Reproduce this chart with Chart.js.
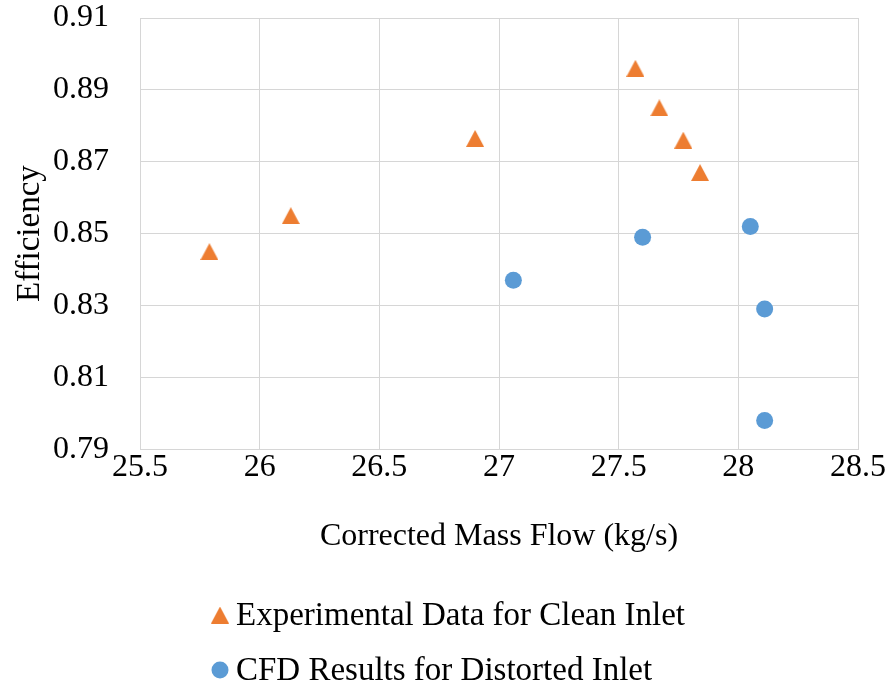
<!DOCTYPE html>
<html>
<head>
<meta charset="utf-8">
<script src="https://cdn.jsdelivr.net/npm/chart.js@4.4.0/dist/chart.umd.min.js"></script>
<style>
  html, body { margin: 0; padding: 0; background: #fff; }
  #wrap { width: 891px; height: 688px; }
</style>
</head>
<body>
<div id="wrap"><canvas id="effChart" width="891" height="688"></canvas></div>
<script>
// 데이터
const cleanLabel = 'Experimental Data for Clean Inlet';
const cleanFlow = [25.79, 26.13, 26.90, 27.57, 27.67, 27.77, 27.84];
const cleanEff = [0.845, 0.855, 0.8765, 0.896, 0.885, 0.876, 0.867];

const cfdLabel = 'CFD Results for Distorted Inlet';
const cfdFlow = [27.06, 27.60, 28.05, 28.11, 28.11];
const cfdEff = [0.837, 0.849, 0.852, 0.829, 0.798];

const xTickLabels = ['25.5', '26', '26.5', '27', '27.5', '28', '28.5'];
const yTickLabels = ['0.79', '0.81', '0.83', '0.85', '0.87', '0.89', '0.91'];

const orange = '#ED7D31';
const blue = '#5B9BD5';
const gridColor = '#d6d6d6';
const serif = "'Liberation Serif', 'Times New Roman', serif";

// 삼각형 마커 (엑셀 스타일)
const makeTriangle = (w, h, color) => {
  const c = document.createElement('canvas');
  c.width = w;
  c.height = h;
  const g = c.getContext('2d');
  g.fillStyle = color;
  g.beginPath();
  g.moveTo(w / 2, 0);
  g.lineTo(w, h);
  g.lineTo(0, h);
  g.closePath();
  g.fill();
  return c;
};
const triangleImg = makeTriangle(18, 17, orange);

const toPoints = (xs, ys) => xs.map((x, i) => ({ x: x, y: ys[i] }));

// 아래쪽 범례 직접 그리기 (왼쪽 정렬)
const bottomLegend = {
  id: 'bottomLegend',
  afterDraw(chart) {
    const ctx = chart.ctx;
    const rows = [
      { text: cleanLabel, y: 615, marker: 'tri' },
      { text: cfdLabel, y: 670, marker: 'dot' }
    ];
    ctx.save();
    rows.forEach(r => {
      if (r.marker === 'tri') {
        ctx.drawImage(triangleImg, 220 - 9, r.y - 8.5);
      } else {
        ctx.fillStyle = blue;
        ctx.beginPath();
        ctx.arc(220, r.y, 8.5, 0, Math.PI * 2);
        ctx.fill();
      }
      ctx.fillStyle = '#000';
      ctx.font = `33px ${serif}`;
      ctx.textBaseline = 'middle';
      ctx.textAlign = 'left';
      ctx.fillText(r.text, 236, r.y + 1);
    });
    ctx.restore();
  }
};

const ctx = document.querySelector('#effChart').getContext('2d');
const myChart = new Chart(ctx, {
  type: 'scatter',
  data: {
    datasets: [{
      label: cleanLabel,
      data: toPoints(cleanFlow, cleanEff),
      pointStyle: triangleImg,
      backgroundColor: orange,
      borderColor: orange,
    }, {
      label: cfdLabel,
      data: toPoints(cfdFlow, cfdEff),
      pointStyle: 'circle',
      pointRadius: 8.5,
      pointHoverRadius: 8.5,
      borderWidth: 0,
      backgroundColor: blue,
      borderColor: blue,
    }],
  },
  options: {
    responsive: false,
    animation: false,
    devicePixelRatio: 1,
    layout: { padding: { left: 0, right: 33, top: 18, bottom: 132 } },
    plugins: {
      legend: { display: false },
      tooltip: { enabled: false }
    },
    scales: {
      x: {
        type: 'linear',
        min: 25.5,
        max: 28.5,
        grid: { color: gridColor, lineWidth: 1, drawTicks: false },
        border: { color: gridColor, width: 1 },
        ticks: {
          stepSize: 0.5,
          padding: -1,
          color: '#000',
          font: { family: serif, size: 32 },
          callback: (v, i) => xTickLabels[i]
        },
        title: {
          display: true,
          text: 'Corrected Mass Flow (kg/s)',
          color: '#000',
          font: { family: serif, size: 32 },
          padding: { top: 32, bottom: 0 }
        },
        afterFit: (scale) => {
          scale.paddingLeft = 0;
          scale.paddingRight = 0;
        }
      },
      y: {
        type: 'linear',
        min: 0.79,
        max: 0.91,
        grid: { color: gridColor, lineWidth: 1, drawTicks: false },
        border: { color: gridColor, width: 1 },
        ticks: {
          stepSize: 0.02,
          padding: 31,
          color: '#000',
          font: { family: serif, size: 32 },
          callback: (v, i) => yTickLabels[i]
        },
        title: {
          display: true,
          text: 'Efficiency',
          color: '#000',
          font: { family: serif, size: 33 },
          padding: { top: 11, bottom: 0 }
        },
        afterFit: (scale) => {
          scale.width = 140;
          scale.paddingTop = 0;
          scale.paddingBottom = 0;
        }
      }
    }
  },
  plugins: [bottomLegend]
});
</script>
</body>
</html>
